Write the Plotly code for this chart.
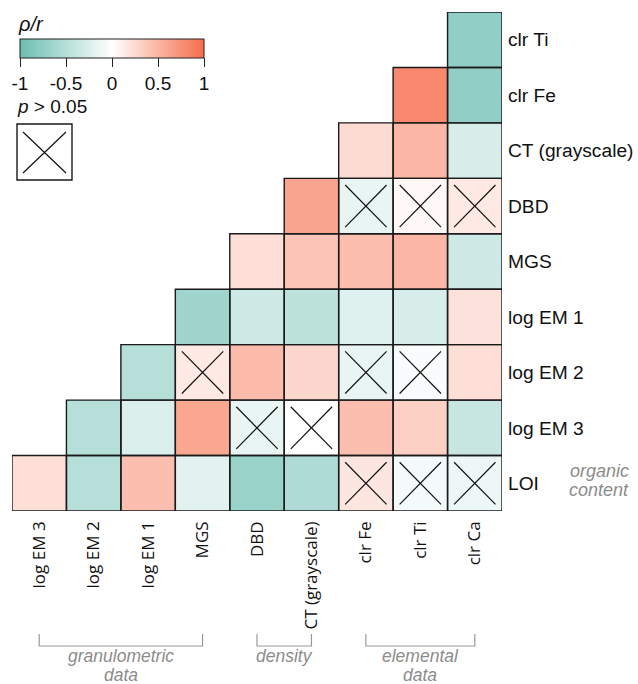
import plotly.graph_objects as go

# Variables on each axis (columns left->right, rows top->bottom)
col_labels = ["log EM 3", "log EM 2", "log EM 1", "MGS", "DBD",
              "CT (grayscale)", "clr Fe", "clr Ti", "clr Ca"]
row_labels = ["clr Ti", "clr Fe", "CT (grayscale)", "DBD", "MGS",
              "log EM 1", "log EM 2", "log EM 3", "LOI"]

# Correlation coefficients (rho / r); None = not computed (lower-left blank)
corr = [
    [None, None, None, None, None, None, None, None, -0.75],
    [None, None, None, None, None, None, None, 0.80, -0.75],
    [None, None, None, None, None, None, 0.25, 0.50, -0.28],
    [None, None, None, None, None, 0.62, -0.15, 0.05, 0.15],
    [None, None, None, None, 0.22, 0.40, 0.44, 0.50, -0.33],
    [None, None, None, -0.65, -0.33, -0.45, -0.22, -0.27, 0.20],
    [None, None, -0.50, 0.15, 0.47, 0.27, -0.15, -0.04, 0.22],
    [None, -0.50, -0.25, 0.60, -0.15, 0.00, 0.44, 0.32, -0.38],
    [0.22, -0.50, 0.44, -0.20, -0.70, -0.55, 0.17, -0.08, -0.12],
]

# 1 = not significant (p > 0.05)
not_sig = [
    [0, 0, 0, 0, 0, 0, 0, 0, 0],
    [0, 0, 0, 0, 0, 0, 0, 0, 0],
    [0, 0, 0, 0, 0, 0, 0, 0, 0],
    [0, 0, 0, 0, 0, 0, 1, 1, 1],
    [0, 0, 0, 0, 0, 0, 0, 0, 0],
    [0, 0, 0, 0, 0, 0, 0, 0, 0],
    [0, 0, 0, 1, 0, 0, 1, 1, 0],
    [0, 0, 0, 0, 1, 1, 0, 0, 0],
    [0, 0, 0, 0, 0, 0, 1, 1, 1],
]

# Variable groups under the x axis: (first col, last col, caption lines)
groups = [
    (0, 3, ["granulometric", "data"]),
    (4, 5, ["density"]),
    (6, 8, ["elemental", "data"]),
]

colorbar_ticks = [-1, -0.5, 0, 0.5, 1]
colorbar_ticktext = ["-1", "-0.5", "0", "0.5", "1"]

W, H = 638, 684
L, R, T, B = 12, 136, 12, 173
PW, PH = W - L - R, H - T - B


def px(x):
    return (x - L) / PW


def py(y):
    return (H - B - y) / PH


colorscale = [[0.0, "rgb(108,190,178)"], [0.5, "rgb(255,255,255)"],
              [1.0, "rgb(246,108,74)"]]

xs = list(range(len(col_labels)))
ys = list(range(len(row_labels)))

fig = go.Figure()
fig.add_trace(go.Heatmap(
    z=corr, x=xs, y=ys, zmin=-1, zmax=1, colorscale=colorscale,
    hoverongaps=False, xgap=0, ygap=0,
    colorbar=dict(
        orientation="h", lenmode="pixels", len=184,
        thicknessmode="pixels", thickness=19,
        x=px(20), xanchor="left", y=py(39), yanchor="top",
        xpad=0, ypad=0, outlinewidth=1, outlinecolor="#222",
        tickvals=colorbar_ticks, ticktext=colorbar_ticktext,
        ticks="outside", ticklen=9, tickwidth=1, tickcolor="#222",
        tickfont=dict(family="Liberation Sans", size=19, color="#111"),
    ),
))

# Cell outlines and crosses for non-significant pairs
shapes = []
cx, cy = [], []
h = 0.38
for i, row in enumerate(corr):
    for j, v in enumerate(row):
        if v is None:
            continue
        shapes.append(dict(type="rect", xref="x", yref="y",
                           x0=j - 0.5, x1=j + 0.5, y0=i - 0.5, y1=i + 0.5,
                           line=dict(color="#1a1a1a", width=1.4),
                           fillcolor="rgba(0,0,0,0)", layer="above"))
        if not_sig[i][j]:
            cx += [j - h, j + h, None, j - h, j + h, None]
            cy += [i - h, i + h, None, i + h, i - h, None]

fig.add_trace(go.Scatter(x=cx, y=cy, mode="lines",
                         line=dict(color="#111", width=1.2),
                         hoverinfo="skip", showlegend=False))

# Group brackets and captions below the axis
gray = "#8c8c8c"
cap_font = dict(family="Liberation Sans", size=17.5, color=gray)
annotations = []
for a, b, lines in groups:
    shapes.append(dict(type="path", xref="x", yref="paper",
                       path=f"M {a},{py(634)} L {a},{py(646)} L {b},{py(646)} L {b},{py(634)}",
                       line=dict(color="#999", width=1.2)))
    for k, txt in enumerate(lines):
        annotations.append(dict(xref="x", yref="paper", x=(a + b) / 2,
                                y=py(656 + 19 * k), text=f"<i>{txt}</i>",
                                showarrow=False, borderpad=0,
                                xanchor="center", yanchor="middle", font=cap_font))

# "organic content" note next to LOI
for k, txt in enumerate(["organic", "content"]):
    annotations.append(dict(xref="paper", yref="paper", x=px(630), y=py(471 + 19 * k),
                            text=f"<i>{txt}</i>", showarrow=False, borderpad=0,
                            xanchor="right", yanchor="middle",
                            font=dict(family="Liberation Sans", size=18, color=gray)))

# Colour bar title and significance key
annotations.append(dict(xref="paper", yref="paper", x=px(16), y=py(24),
                        text="<i>ρ/r</i>", showarrow=False,
                        xanchor="left", yanchor="middle",
                        font=dict(family="Liberation Sans", size=20, color="#111")))
annotations.append(dict(xref="paper", yref="paper", x=px(15), y=py(107),
                        text="<i>p</i> > 0.05", showarrow=False,
                        xanchor="left", yanchor="middle",
                        font=dict(family="Liberation Sans", size=19, color="#111")))
shapes.append(dict(type="rect", xref="paper", yref="paper",
                   x0=px(17), x1=px(72), y0=py(180), y1=py(124),
                   line=dict(color="#1a1a1a", width=1.4)))
shapes.append(dict(type="path", xref="paper", yref="paper",
                   path=(f"M {px(23)},{py(132)} L {px(66)},{py(173)} "
                         f"M {px(23)},{py(173)} L {px(66)},{py(132)}"),
                   line=dict(color="#111", width=1.2)))

fig.update_layout(
    width=W, height=H, margin=dict(l=L, r=R, t=T, b=B, autoexpand=False),
    paper_bgcolor="white", plot_bgcolor="white",
    shapes=shapes, annotations=annotations, showlegend=False,
    xaxis=dict(range=[-0.5, 8.5], tickvals=xs, ticktext=col_labels,
               tickangle=-90, showgrid=False, zeroline=False, showline=False,
               ticks="", ticklabelstandoff=6, automargin=False,
               tickfont=dict(family="Open Sans", size=17, color="#111")),
    yaxis=dict(range=[8.5, -0.5], tickvals=ys, ticktext=row_labels,
               side="right", showgrid=False, zeroline=False, showline=False,
               ticks="", ticklabelstandoff=5, automargin=False,
               tickfont=dict(family="Liberation Sans", size=19.2, color="#111")),
)

fig.write_html("out.html")
